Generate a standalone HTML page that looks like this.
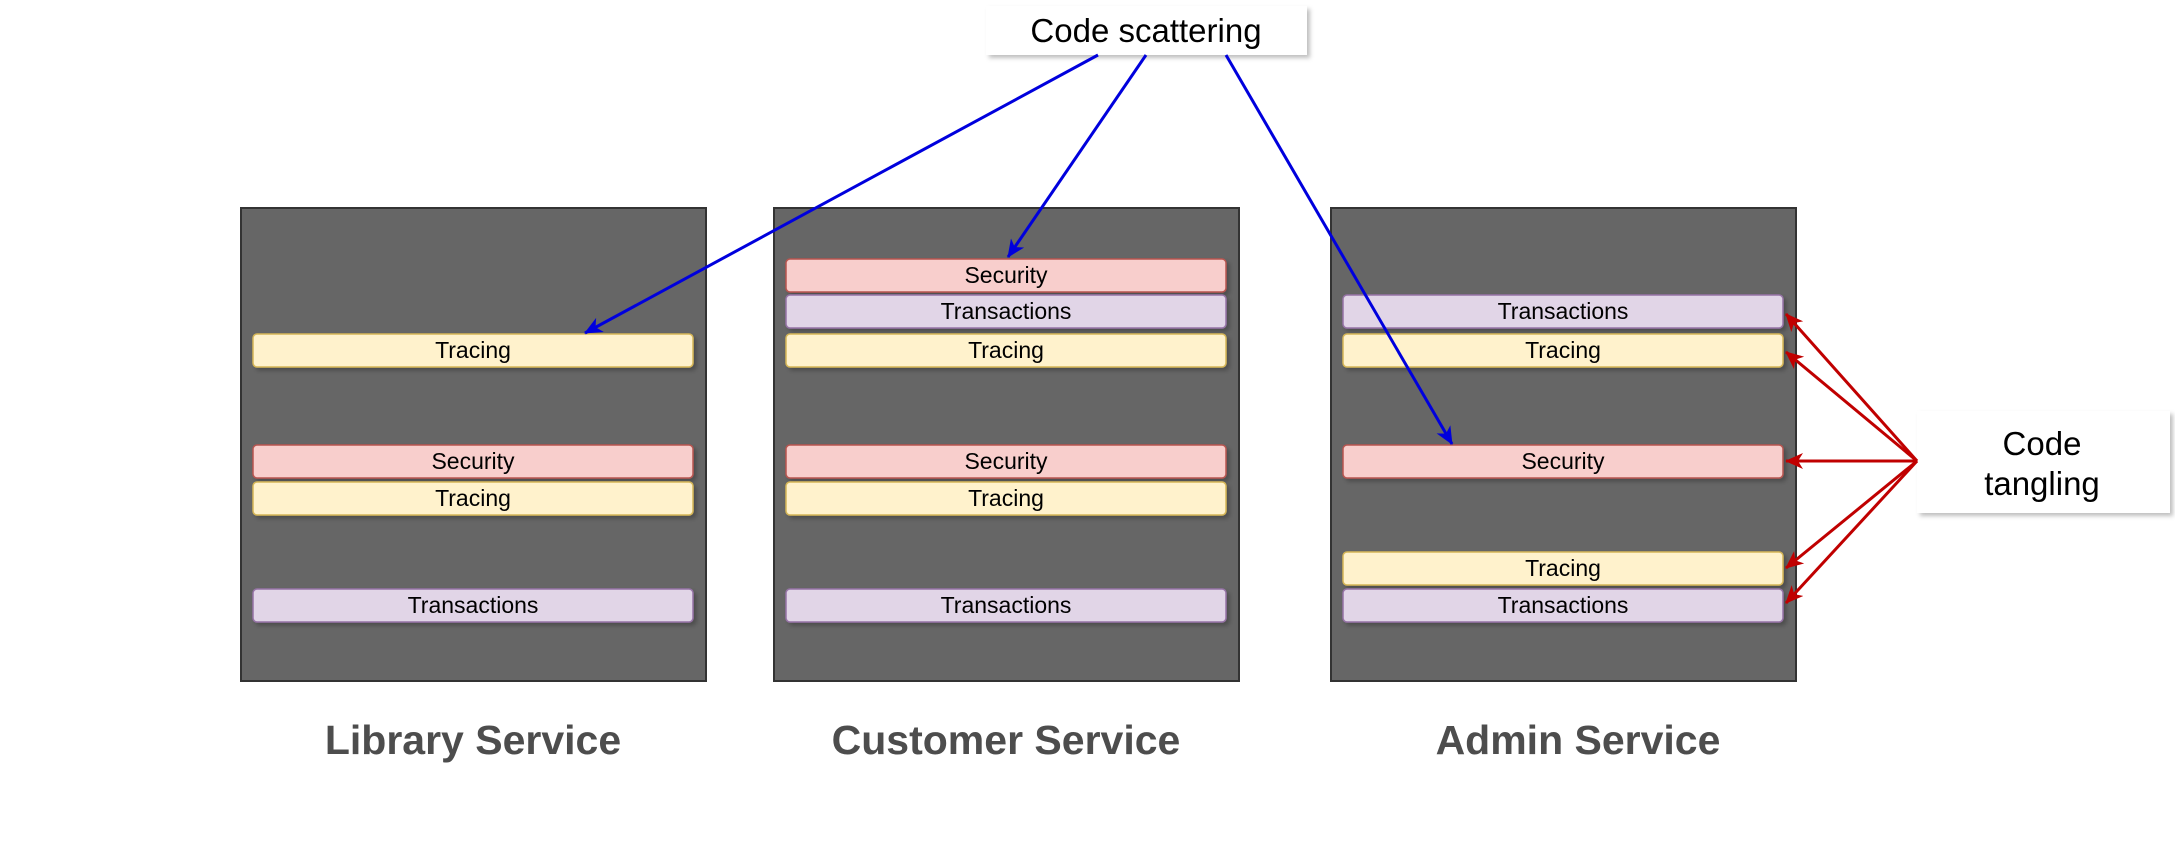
<!DOCTYPE html>
<html><head><meta charset="utf-8"><style>
html,body{margin:0;padding:0;background:#fff;}
svg{display:block;}
text{font-family:"Liberation Sans",Arial,sans-serif;}
</style></head><body>
<svg width="2175" height="864" viewBox="0 0 2175 864" xmlns="http://www.w3.org/2000/svg">
<defs>
<filter id="sh" x="-10%" y="-20%" width="130%" height="160%"><feDropShadow dx="3" dy="3" stdDeviation="2" flood-color="#000" flood-opacity="0.25"/></filter>
<marker id="ab" markerWidth="18" markerHeight="16" refX="17" refY="8" orient="auto" markerUnits="userSpaceOnUse"><path d="M0,0 L18,8 L0,16 L5,8 Z" fill="#0000dd"/></marker>
<marker id="ar" markerWidth="18" markerHeight="16" refX="17" refY="8" orient="auto" markerUnits="userSpaceOnUse"><path d="M0,0 L18,8 L0,16 L5,8 Z" fill="#c00000"/></marker>
</defs>

<g fill="#666666" stroke="#333" stroke-width="2">
<rect x="241" y="208" width="465" height="473"/>
<rect x="774" y="208" width="465" height="473"/>
<rect x="1331" y="208" width="465" height="473"/>
</g>

<g filter="url(#sh)">
<rect x="253" y="334" width="440" height="33" rx="4" fill="#fff2cc" stroke="#d6b656" stroke-width="1.5"/>
<rect x="253" y="445" width="440" height="33" rx="4" fill="#f8cecc" stroke="#b85450" stroke-width="1.5"/>
<rect x="253" y="482" width="440" height="33" rx="4" fill="#fff2cc" stroke="#d6b656" stroke-width="1.5"/>
<rect x="253" y="589" width="440" height="33" rx="4" fill="#e1d5e7" stroke="#9673a6" stroke-width="1.5"/>
<rect x="786" y="259" width="440" height="33" rx="4" fill="#f8cecc" stroke="#b85450" stroke-width="1.5"/>
<rect x="786" y="295" width="440" height="33" rx="4" fill="#e1d5e7" stroke="#9673a6" stroke-width="1.5"/>
<rect x="786" y="334" width="440" height="33" rx="4" fill="#fff2cc" stroke="#d6b656" stroke-width="1.5"/>
<rect x="786" y="445" width="440" height="33" rx="4" fill="#f8cecc" stroke="#b85450" stroke-width="1.5"/>
<rect x="786" y="482" width="440" height="33" rx="4" fill="#fff2cc" stroke="#d6b656" stroke-width="1.5"/>
<rect x="786" y="589" width="440" height="33" rx="4" fill="#e1d5e7" stroke="#9673a6" stroke-width="1.5"/>
<rect x="1343" y="295" width="440" height="33" rx="4" fill="#e1d5e7" stroke="#9673a6" stroke-width="1.5"/>
<rect x="1343" y="334" width="440" height="33" rx="4" fill="#fff2cc" stroke="#d6b656" stroke-width="1.5"/>
<rect x="1343" y="445" width="440" height="33" rx="4" fill="#f8cecc" stroke="#b85450" stroke-width="1.5"/>
<rect x="1343" y="552" width="440" height="33" rx="4" fill="#fff2cc" stroke="#d6b656" stroke-width="1.5"/>
<rect x="1343" y="589" width="440" height="33" rx="4" fill="#e1d5e7" stroke="#9673a6" stroke-width="1.5"/>
</g>
<g font-size="23" text-anchor="middle" fill="#000">
<text x="473" y="358">Tracing</text>
<text x="473" y="469">Security</text>
<text x="473" y="506">Tracing</text>
<text x="473" y="613">Transactions</text>
<text x="1006" y="283">Security</text>
<text x="1006" y="319">Transactions</text>
<text x="1006" y="358">Tracing</text>
<text x="1006" y="469">Security</text>
<text x="1006" y="506">Tracing</text>
<text x="1006" y="613">Transactions</text>
<text x="1563" y="319">Transactions</text>
<text x="1563" y="358">Tracing</text>
<text x="1563" y="469">Security</text>
<text x="1563" y="576">Tracing</text>
<text x="1563" y="613">Transactions</text>
</g>

<g font-size="41" font-weight="bold" fill="#4d4d4d" text-anchor="middle">
<text x="473" y="754">Library Service</text>
<text x="1006" y="754">Customer Service</text>
<text x="1578" y="754">Admin Service</text>
</g>

<rect x="986" y="6" width="321" height="49" fill="#fff" filter="url(#sh)"/>
<text x="1146" y="42" font-size="33" text-anchor="middle">Code scattering</text>

<rect x="1917" y="411" width="253" height="102" fill="#fff" filter="url(#sh)"/>
<text x="2042" y="455" font-size="33" text-anchor="middle">Code</text>
<text x="2042" y="495" font-size="33" text-anchor="middle">tangling</text>

<g stroke="#0000dd" stroke-width="3" fill="none">
<line x1="1098" y1="55" x2="585" y2="333" marker-end="url(#ab)"/>
<line x1="1146" y1="55" x2="1008" y2="257" marker-end="url(#ab)"/>
<line x1="1226" y1="55" x2="1452" y2="444" marker-end="url(#ab)"/>
</g>
<g stroke="#c00000" stroke-width="3" fill="none">
<line x1="1917" y1="461" x2="1786" y2="314" marker-end="url(#ar)"/>
<line x1="1917" y1="461" x2="1786" y2="352" marker-end="url(#ar)"/>
<line x1="1917" y1="461" x2="1786" y2="461" marker-end="url(#ar)"/>
<line x1="1917" y1="461" x2="1786" y2="568" marker-end="url(#ar)"/>
<line x1="1917" y1="461" x2="1786" y2="603" marker-end="url(#ar)"/>
</g>
</svg>
</body></html>
